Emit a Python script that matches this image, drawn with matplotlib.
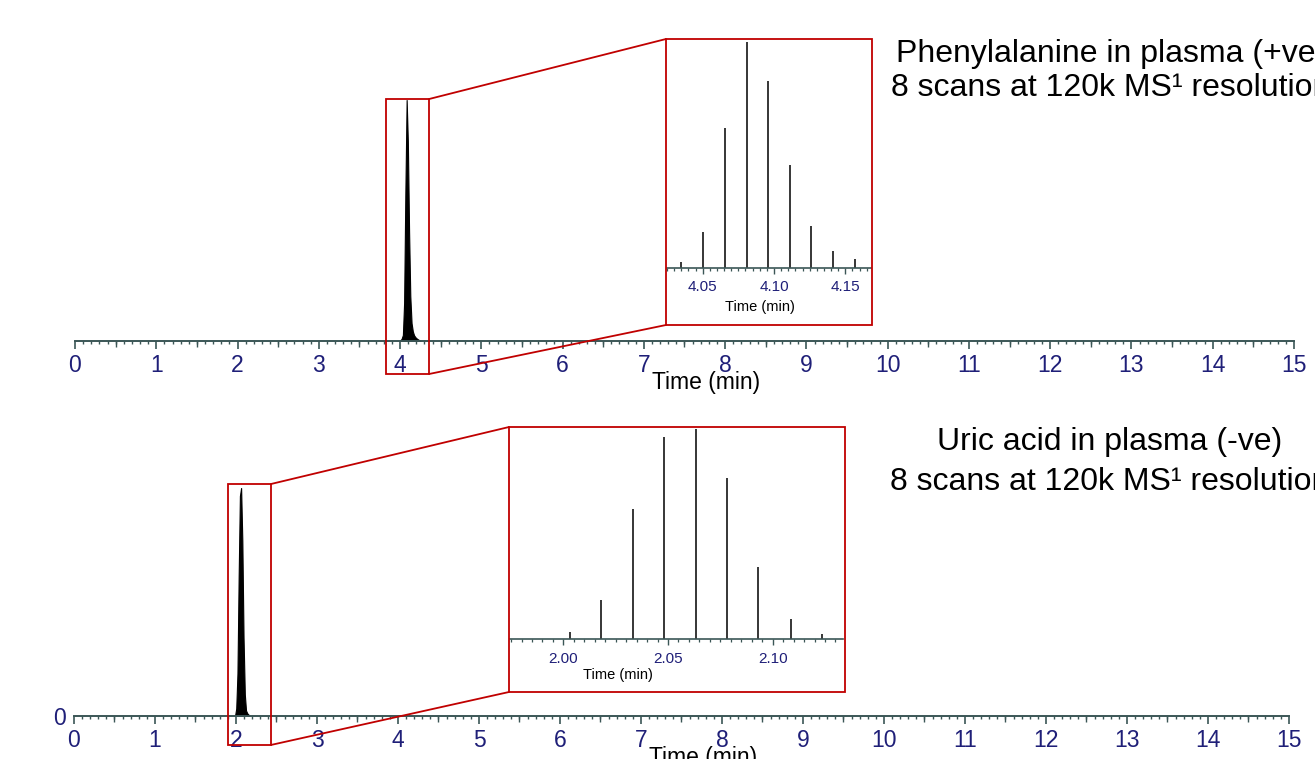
import matplotlib

matplotlib.use("Agg")
import matplotlib.pyplot as plt
from matplotlib.patches import Rectangle, ConnectionPatch
from matplotlib.ticker import MultipleLocator, FixedLocator

# Phenylalanine in plasma (+ve): scan times (min) and relative intensity (%)
phe_time = [4.004, 4.019, 4.0348, 4.050, 4.0654, 4.081, 4.0958, 4.111, 4.126,
            4.1416, 4.157, 4.172, 4.188, 4.203, 4.219, 4.234, 4.250]
phe_int = [0.3, 0.9, 2.5, 15.9, 61.7, 100, 82.8, 45.5, 18.6,
           7.4, 4.0, 2.4, 1.6, 1.1, 0.7, 0.4, 0.2]

# Uric acid in plasma (-ve)
uric_time = [1.988, 2.003, 2.0181, 2.0333, 2.0483, 2.0632, 2.0782, 2.0931,
             2.1089, 2.1238, 2.139, 2.154, 2.169]
uric_int = [0.0, 3.3, 18.6, 61.8, 96.5, 100, 76.9, 34.5, 9.5, 2.4, 1.2, 0.6, 0.3]

main_ticks = list(range(0, 16))
phe_zoom = (4.025, 4.168)
uric_zoom = (1.9745, 2.1336)
phe_inset_ticks = [4.05, 4.10, 4.15]
uric_inset_ticks = [2.00, 2.05, 2.10]

phe_title = ["Phenylalanine in plasma (+ve)", "8 scans at 120k MS\u00b9 resolution"]
uric_title = ["Uric acid in plasma (-ve)", "8 scans at 120k MS\u00b9 resolution"]

NAVY = "#1f1f78"
AXIS = "#3b5656"
RED = "#c00000"

plt.rcParams["font.family"] = ["Liberation Sans", "DejaVu Sans"]

fig = plt.figure(figsize=(13.15, 7.59), dpi=100)


def style_main(ax):
    for s in ("top", "right", "left"):
        ax.spines[s].set_visible(False)
    ax.spines["bottom"].set_color(AXIS)
    ax.spines["bottom"].set_linewidth(1.4)
    ax.set_xlim(0, 15)
    ax.set_ylim(0, 100)
    ax.set_facecolor("none")
    ax.xaxis.set_major_locator(FixedLocator(main_ticks))
    ax.xaxis.set_minor_locator(MultipleLocator(0.1))
    ax.tick_params(axis="x", which="major", direction="out", length=5.8, width=1.2,
                   color=AXIS, labelsize=16.5, labelcolor=NAVY, pad=3.8)
    ax.tick_params(axis="x", which="minor", direction="out", length=2.2, width=1.0,
                   color=AXIS)
    # half-minute ticks
    sec = ax.secondary_xaxis("bottom")
    sec.set_xticks([i + 0.5 for i in range(15)])
    sec.set_xticklabels([])
    sec.tick_params(length=4.0, width=1.0, color=AXIS)
    sec.spines["bottom"].set_visible(False)


def draw_inset(ax_rect, box_rect, time, inten, xlim, ticks, label_x, pad):
    axi = fig.add_axes(ax_rect)
    axi.vlines(time, 0, inten, color="black", lw=1.1)
    axi.set_xlim(*xlim)
    axi.set_ylim(0, 100)
    axi.set_facecolor("none")
    for s in ("top", "right", "left"):
        axi.spines[s].set_visible(False)
    axi.spines["bottom"].set_color(AXIS)
    axi.spines["bottom"].set_linewidth(1.2)
    axi.set_yticks([])
    axi.set_xticks(ticks)
    axi.set_xticklabels([f"{t:.2f}" for t in ticks])
    axi.xaxis.set_minor_locator(MultipleLocator(0.005))
    axi.tick_params(axis="x", which="major", length=4.0, width=1.0, color=AXIS,
                    labelsize=11, labelcolor=NAVY, pad=pad)
    axi.tick_params(axis="x", which="minor", length=2.0, width=0.9, color=AXIS)
    axi.set_xlabel("Time (min)", fontsize=10.5, va="center")
    axi.xaxis.set_label_coords(label_x, -0.172)
    box = Rectangle(box_rect[:2], box_rect[2], box_rect[3], transform=fig.transFigure,
                    fill=False, ec=RED, lw=1.3)
    fig.patches.append(box)
    return axi


def zoom_frame(ax, x0, x1, y0, y1, box_rect):
    ax.add_patch(Rectangle((x0, y0), x1 - x0, y1 - y0, fill=False, ec=RED, lw=1.3,
                           clip_on=False, zorder=5))
    bx, by, bw, bh = box_rect
    for ya, yb in ((y1, by + bh), (y0, by)):
        con = ConnectionPatch(xyA=(x1, ya), coordsA=ax.transData,
                              xyB=(bx, yb), coordsB=fig.transFigure,
                              color=RED, lw=1.3, zorder=5)
        fig.add_artist(con)


# ---- top: phenylalanine ----
ax1 = fig.add_axes([0.05703, 0.55072, 0.92700, 0.31752])
style_main(ax1)
ax1.fill_between(phe_time, phe_int, color="black", lw=0.8)
ax1.set_yticks([])
ax1.set_xlabel("Time (min)", fontsize=16.5, va="center")
ax1.xaxis.set_label_coords(0.518, -0.172)

box1 = (0.50646, 0.57181, 0.15665, 0.37681)
draw_inset([0.50722, 0.64690, 0.15513, 0.29816], box1, phe_time, phe_int,
           phe_zoom, phe_inset_ticks, 0.456, 4.5)
zoom_frame(ax1, 3.827, 4.356, -13.7, 100.4, box1)

# ---- bottom: uric acid ----
ax2 = fig.add_axes([0.05627, 0.05665, 0.92395, 0.30040])
style_main(ax2)
ax2.fill_between(uric_time, uric_int, color="black", lw=0.8)
ax2.set_yticks([0])
ax2.set_yticklabels(["0"])
ax2.tick_params(axis="y", length=0, labelsize=16.5, labelcolor=NAVY, pad=5.5)
ax2.set_xlabel("Time (min)", fontsize=16.5, va="center")
ax2.xaxis.set_label_coords(0.518, -0.182)

box2 = (0.38707, 0.08827, 0.25551, 0.34914)
draw_inset([0.38783, 0.15810, 0.25323, 0.27628], box2, uric_time, uric_int,
           uric_zoom, uric_inset_ticks, 0.324, 5.5)
zoom_frame(ax2, 1.901, 2.432, -12.7, 101.75, box2)

# annotations (cut at the right edge as in the source slide)
for txt, y in zip(phe_title, (0.9285, 0.8840)):
    fig.text(0.8449, y, txt, ha="center", va="center", fontsize=23)
for txt, y in zip(uric_title, (0.4175, 0.3650)):
    fig.text(0.8441, y, txt, ha="center", va="center", fontsize=23)

fig.savefig("out.png", dpi=100)
